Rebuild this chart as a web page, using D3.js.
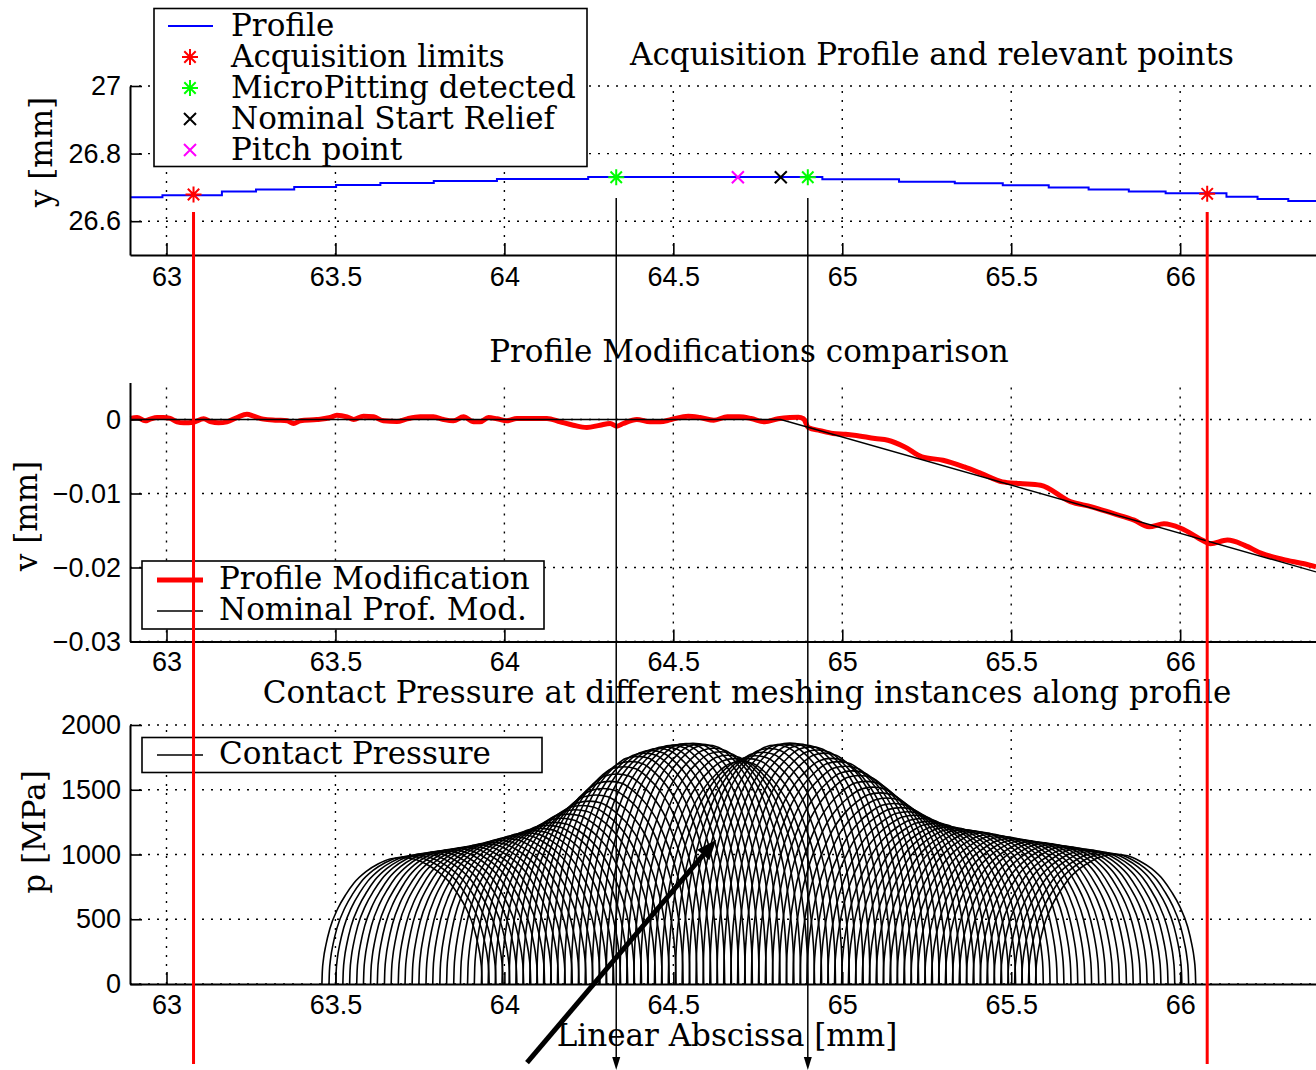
<!DOCTYPE html>
<html lang="en">
<head>
<meta charset="UTF-8">
<title>Acquisition Profile, Profile Modifications and Contact Pressure</title>
<script src="https://d3js.org/d3.v7.min.js"></script>
<style>
  body { margin: 0; background: #fff; }
  .serif { font-family: "DejaVu Serif", serif; font-size: 31px; fill: #000; }
</style>
</head>
<body>
<svg id="chart"></svg>
<script>
// ---- data ----
const xTicks = [63, 63.5, 64, 64.5, 65, 65.5, 66];
const yTicksProfile = [26.6, 26.8, 27];
const yTicksMod = [0, -0.01, -0.02, -0.03];
const yTicksPressure = [0, 500, 1000, 1500, 2000];

// acquired profile (stepped, as sampled)
const profileX = [62.892, 62.988, 63.164, 63.265, 63.378, 63.502, 63.633, 63.791, 63.978, 64.248,
                  64.941, 65.168, 65.333, 65.475, 65.611, 65.729, 65.848, 65.957, 66.137, 66.229, 66.320, 66.402];
const profileY = [26.671, 26.677, 26.688, 26.694, 26.701, 26.707, 26.713, 26.719, 26.725, 26.731,
                  26.724, 26.717, 26.712, 26.706, 26.700, 26.694, 26.688, 26.683, 26.672, 26.666, 26.660, 26.660];

const acqLimitsX = [63.08, 66.08];
const acqLimitsY = [26.679, 26.681];
const microPitX = [64.331, 64.898];
const microPitY = [26.730, 26.730];
const startReliefX = [64.818];
const startReliefY = [26.730];
const pitchX = [64.691];
const pitchY = [26.730];

// measured profile modification
const modX = [62.893, 62.913, 62.937, 62.952, 62.972, 62.991, 63.011, 63.031, 63.051, 63.080,
              63.110, 63.130, 63.154, 63.179, 63.209, 63.238, 63.258, 63.287, 63.327, 63.357,
              63.376, 63.396, 63.445, 63.485, 63.504, 63.534, 63.554, 63.583, 63.613, 63.642,
              63.682, 63.712, 63.751, 63.790, 63.820, 63.849, 63.879, 63.909, 63.928, 63.953,
              63.978, 64.007, 64.037, 64.076, 64.126, 64.165, 64.204, 64.244, 64.283, 64.313,
              64.333, 64.352, 64.392, 64.431, 64.461, 64.494, 64.544, 64.579, 64.620, 64.660,
              64.695, 64.730, 64.771, 64.810, 64.845, 64.870, 64.885, 64.900, 64.934, 64.972,
              65.010, 65.035, 65.097, 65.135, 65.185, 65.236, 65.298, 65.361, 65.412, 65.474,
              65.525, 65.587, 65.675, 65.738, 65.801, 65.864, 65.908, 65.952, 66.002, 66.065,
              66.090, 66.140, 66.191, 66.241, 66.304, 66.367, 66.402];
const modV = [0.00014, 0.00027, -0.00018, 0.00005, 0.00027, 0.00027, 0.00014, -0.00032, -0.00045, -0.00036,
              0.00009, -0.00027, -0.00045, -0.00032, 0.00027, 0.00072, 0.00045, 0.00005, -0.00009, -0.00018,
              -0.00054, -0.00018, 0, 0.00027, 0.00059, 0.00036, 0, 0.00045, 0.00036, -0.00018,
              -0.00027, 0.00009, 0.00036, 0.00036, 0, -0.00018, 0.00036, -0.00032, -0.00032, 0.00027,
              0.00009, -0.00018, 0.00014, 0.00014, 0.00014, -0.00032, -0.00077, -0.00108, -0.00077, -0.00054,
              -0.00090, -0.00054, 0, -0.00032, -0.00032, 0, 0.00045, 0.00027, -0.00009, 0.00036,
              0.00036, 0.00014, -0.00032, 0.00010, 0.00027, 0.00030, 0.00010, -0.00110, -0.00150, -0.00189,
              -0.00200, -0.00212, -0.00257, -0.00280, -0.00370, -0.00505, -0.00550, -0.00641, -0.00730, -0.00843,
              -0.00865, -0.00888, -0.0111, -0.0118, -0.0127, -0.0136, -0.0145, -0.0141, -0.0147, -0.0163,
              -0.0168, -0.0163, -0.0170, -0.0181, -0.0189, -0.0195, -0.0199];

// nominal profile modification (start of relief, then linear tip relief)
const nominalX = [62.892, 64.818, 66.402];
const nominalV = [0, 0, -0.0206];

// contact pressure: one Hertz-like arch per meshing instance
const pressureCenters = [
  63.697, 63.718, 63.738, 63.759, 63.779, 63.800, 63.820, 63.841, 63.861, 63.882,
  63.902, 63.923, 63.943, 63.964, 63.984, 64.005, 64.025, 64.046, 64.066, 64.087,
  64.107, 64.128, 64.148, 64.169, 64.189, 64.210, 64.230, 64.251, 64.271, 64.292,
  64.312, 64.333, 64.353, 64.374, 64.394, 64.415, 64.435, 64.456, 64.476, 64.497,
  64.517, 64.538, 64.558, 64.579, 64.599, 64.620, 64.640, 64.661, 64.681, 64.702,
  64.722, 64.743, 64.763, 64.784, 64.804, 64.825, 64.845, 64.866, 64.886, 64.907,
  64.927, 64.948, 64.968, 64.989, 65.009, 65.030, 65.050, 65.071, 65.091, 65.112,
  65.132, 65.153, 65.173, 65.194, 65.214, 65.235, 65.255, 65.276, 65.296, 65.317,
  65.337, 65.358, 65.378, 65.399, 65.419, 65.440, 65.460, 65.481, 65.501, 65.522,
  65.542, 65.563, 65.583, 65.604, 65.624, 65.645, 65.665, 65.686, 65.706, 65.727,
  65.747, 65.768, 65.788, 65.809];
const pressurePeaks = [
  975, 985, 993, 1003, 1012, 1020, 1028, 1036, 1044, 1053,
  1061, 1071, 1082, 1093, 1108, 1123, 1137, 1152, 1167, 1184,
  1202, 1225, 1248, 1280, 1312, 1346, 1378, 1412, 1460, 1510,
  1565, 1622, 1678, 1718, 1758, 1783, 1802, 1818, 1831, 1843,
  1850, 1857, 1858, 1852, 1845, 1820, 1793, 1766, 1740, 1717,
  1740, 1763, 1790, 1818, 1845, 1853, 1860, 1855, 1846, 1831,
  1807, 1783, 1742, 1717, 1682, 1646, 1610, 1565, 1520, 1476,
  1436, 1394, 1362, 1330, 1303, 1278, 1256, 1240, 1223, 1212,
  1200, 1192, 1184, 1175, 1166, 1155, 1145, 1135, 1124, 1116,
  1108, 1099, 1092, 1084, 1075, 1067, 1059, 1049, 1043, 1034,
  1025, 1016, 1008, 1000];
const contactHalfWidth = 0.237; // mm
// arch shape (offset / half-width, p / peak), read from the last arch
const archU = [-1, -0.995, -0.98, -0.95, -0.9, -0.8, -0.7, -0.6, -0.45, -0.3, -0.15, 0,
               0.15, 0.3, 0.45, 0.6, 0.7, 0.8, 0.9, 0.95, 0.98, 0.995, 1];
const archP = [0, 0.10, 0.20, 0.31, 0.44, 0.60, 0.71, 0.80, 0.89, 0.95, 0.99, 1,
               0.99, 0.95, 0.89, 0.80, 0.71, 0.60, 0.44, 0.31, 0.20, 0.10, 0];

// hand-drawn pointer in the pressure plot (x in mm, p in MPa)
const pointerFrom = [64.067, -607];
const pointerTo = [64.627, 1114];

// ---- chart ----
const width = 1316, height = 1070;
const svg = d3.select("#chart").attr("width", width).attr("height", height);

const x = d3.scaleLinear().domain([62.892, 66.402]).range([130, 1316]);
const yProf = d3.scaleLinear().domain([26.5, 27]).range([255, 86]);
const yMod = d3.scaleLinear().domain([-0.03, 0.005]).range([641.5, 382.5]);
const yPres = d3.scaleLinear().domain([0, 2000]).range([984, 725]);

function grid(yScale, yTicks) {
    const [yb, yt] = yScale.range();
    const g = svg.append("g")
        .attr("stroke", "#000")
        .attr("stroke-width", 1.4)
        .attr("stroke-dasharray", "2,7");
    g.selectAll(null).data(xTicks).join("line")
        .attr("x1", d => x(d)).attr("x2", d => x(d))
        .attr("y1", yb).attr("y2", yt);
    g.selectAll(null).data(yTicks).join("line")
        .attr("x1", x.range()[0]).attr("x2", x.range()[1])
        .attr("y1", d => yScale(d)).attr("y2", d => yScale(d));
}

function axes(yScale, yTicks, pad) {
    const gx = svg.append("g")
        .attr("transform", `translate(0,${yScale.range()[0]})`)
        .call(d3.axisBottom(x).tickValues(xTicks).tickFormat(d3.format(""))
            .tickSizeInner(-12).tickSizeOuter(0).tickPadding(pad));
    const gy = svg.append("g")
        .attr("transform", `translate(${x.range()[0]},0)`)
        .call(d3.axisLeft(yScale).tickValues(yTicks).tickFormat(d3.format(""))
            .tickSizeInner(-12).tickSizeOuter(0).tickPadding(9));
    [gx, gy].forEach(g => {
        g.attr("font-family", "'Liberation Sans', Arial, sans-serif").attr("font-size", 27);
        g.select(".domain").attr("stroke-width", 2);
        g.selectAll(".tick line").attr("stroke-width", 1.6);
        g.selectAll(".tick text").attr("fill", "#000");
    });
}

function title(txt, cx, by) {
    svg.append("text").attr("class", "serif")
        .attr("x", cx).attr("y", by)
        .attr("text-anchor", "middle")
        .text(txt);
}

function yLabel(txt, bx, cy) {
    svg.append("text").attr("class", "serif")
        .attr("transform", `translate(${bx},${cy}) rotate(-90)`)
        .attr("text-anchor", "middle")
        .text(txt);
}

const asterisk = "M-8,0H8M0,-8V8M-5.7,-5.7L5.7,5.7M-5.7,5.7L5.7,-5.7";
const cross = "M-6,-6L6,6M-6,6L6,-6";

function markers(xs, ys, path, color) {
    svg.append("g").selectAll(null).data(xs).join("path")
        .attr("transform", (d, i) => `translate(${x(d)},${yProf(ys[i])})`)
        .attr("d", path)
        .attr("fill", "none")
        .attr("stroke", color)
        .attr("stroke-width", 2);
}

// panel 1: acquisition profile
grid(yProf, yTicksProfile);
svg.append("path")
    .datum(profileX.map((d, i) => [d, profileY[i]]))
    .attr("fill", "none")
    .attr("stroke", "#0000ff")
    .attr("stroke-width", 2)
    .attr("d", d3.line().x(d => x(d[0])).y(d => yProf(d[1])).curve(d3.curveStepAfter));
markers(acqLimitsX, acqLimitsY, asterisk, "#ff0000");
markers(microPitX, microPitY, asterisk, "#00ff00");
markers(pitchX, pitchY, cross, "#ff00ff");
markers(startReliefX, startReliefY, cross, "#000");
axes(yProf, yTicksProfile, 12);
title("Acquisition Profile and relevant points", 932, 65);
yLabel("y [mm]", 52, 152);

// legend 1
svg.append("rect").attr("x", 154).attr("y", 8.5).attr("width", 433).attr("height", 158)
    .attr("fill", "#fff").attr("stroke", "#000").attr("stroke-width", 1.6);
const leg1 = [
    { label: "Profile", kind: "line", color: "#0000ff" },
    { label: "Acquisition limits", kind: asterisk, color: "#ff0000" },
    { label: "MicroPitting detected", kind: asterisk, color: "#00ff00" },
    { label: "Nominal Start Relief", kind: cross, color: "#000" },
    { label: "Pitch point", kind: cross, color: "#ff00ff" }
];
leg1.forEach((d, i) => {
    const cy = 26 + i * 31;
    if (d.kind === "line") {
        svg.append("line").attr("x1", 168).attr("x2", 213).attr("y1", cy).attr("y2", cy)
            .attr("stroke", d.color).attr("stroke-width", 2);
    } else {
        svg.append("path").attr("transform", `translate(190,${cy})`).attr("d", d.kind)
            .attr("fill", "none").attr("stroke", d.color).attr("stroke-width", 2);
    }
    svg.append("text").attr("class", "serif").attr("x", 231).attr("y", cy + 9.5).text(d.label);
});

// panel 2: profile modifications
grid(yMod, yTicksMod);
svg.append("path")
    .datum(modX.map((d, i) => [d, modV[i]]))
    .attr("fill", "none")
    .attr("stroke", "#ff0000")
    .attr("stroke-width", 5)
    .attr("stroke-linejoin", "round")
    .attr("d", d3.line().x(d => x(d[0])).y(d => yMod(d[1])).curve(d3.curveMonotoneX));
svg.append("path")
    .datum(nominalX.map((d, i) => [d, nominalV[i]]))
    .attr("fill", "none")
    .attr("stroke", "#000")
    .attr("stroke-width", 1.4)
    .attr("d", d3.line().x(d => x(d[0])).y(d => yMod(d[1])));
axes(yMod, yTicksMod, 10);
title("Profile Modifications comparison", 749, 362);
yLabel("v [mm]", 37, 516);

svg.append("rect").attr("x", 142).attr("y", 561).attr("width", 402).attr("height", 68)
    .attr("fill", "#fff").attr("stroke", "#000").attr("stroke-width", 1.6);
[["Profile Modification", "#ff0000", 5], ["Nominal Prof. Mod.", "#000", 1.4]].forEach((d, i) => {
    const cy = 580 + i * 31;
    svg.append("line").attr("x1", 157).attr("x2", 203).attr("y1", cy).attr("y2", cy)
        .attr("stroke", d[1]).attr("stroke-width", d[2]);
    svg.append("text").attr("class", "serif").attr("x", 219).attr("y", cy + 9).text(d[0]);
});

// panel 3: contact pressure
grid(yPres, yTicksPressure);
const arch = d3.line().x(d => x(d[0])).y(d => yPres(d[1])).curve(d3.curveMonotoneX);
svg.append("g").selectAll(null).data(pressureCenters).join("path")
    .attr("fill", "none")
    .attr("stroke", "#000")
    .attr("stroke-width", 1.6)
    .attr("d", (c, i) => arch(archU.map((u, k) => [c + u * contactHalfWidth, pressurePeaks[i] * archP[k]])));
axes(yPres, yTicksPressure, 11);
title("Contact Pressure at different meshing instances along profile", 747, 703);
yLabel("p [MPa]", 45, 832);
svg.append("text").attr("class", "serif").attr("x", 727).attr("y", 1046)
    .attr("text-anchor", "middle").text("Linear Abscissa [mm]");

svg.append("rect").attr("x", 142).attr("y", 737.5).attr("width", 400).attr("height", 35)
    .attr("fill", "#fff").attr("stroke", "#000").attr("stroke-width", 1.6);
svg.append("line").attr("x1", 157).attr("x2", 203).attr("y1", 755).attr("y2", 755)
    .attr("stroke", "#000").attr("stroke-width", 1.4);
svg.append("text").attr("class", "serif").attr("x", 219).attr("y", 764).text("Contact Pressure");

// overlay: acquisition limits and micropitting positions through all panels
svg.append("g").selectAll(null).data(acqLimitsX).join("line")
    .attr("x1", d => x(d)).attr("x2", d => x(d))
    .attr("y1", 212).attr("y2", 1064)
    .attr("stroke", "#ff0000").attr("stroke-width", 3);
const mp = svg.append("g");
mp.selectAll(null).data(microPitX).join("line")
    .attr("x1", d => x(d)).attr("x2", d => x(d))
    .attr("y1", 198).attr("y2", 1060)
    .attr("stroke", "#000").attr("stroke-width", 1.5);
mp.selectAll(null).data(microPitX).join("path")
    .attr("d", d => `M${x(d) - 4},1057L${x(d) + 4},1057L${x(d)},1070Z`)
    .attr("fill", "#000");

// pointer arrow
const p0 = [x(pointerFrom[0]), yPres(pointerFrom[1])];
const p1 = [x(pointerTo[0]), yPres(pointerTo[1])];
const ang = Math.atan2(p1[1] - p0[1], p1[0] - p0[0]);
const headLen = 20, headHalf = 8;
const base = [p1[0] - headLen * Math.cos(ang), p1[1] - headLen * Math.sin(ang)];
svg.append("line")
    .attr("x1", p0[0]).attr("y1", p0[1]).attr("x2", base[0]).attr("y2", base[1])
    .attr("stroke", "#000").attr("stroke-width", 5);
svg.append("path")
    .attr("d", `M${p1[0]},${p1[1]}` +
        `L${base[0] + headHalf * Math.sin(ang)},${base[1] - headHalf * Math.cos(ang)}` +
        `L${base[0] - headHalf * Math.sin(ang)},${base[1] + headHalf * Math.cos(ang)}Z`)
    .attr("fill", "#000");
</script>
</body>
</html>
